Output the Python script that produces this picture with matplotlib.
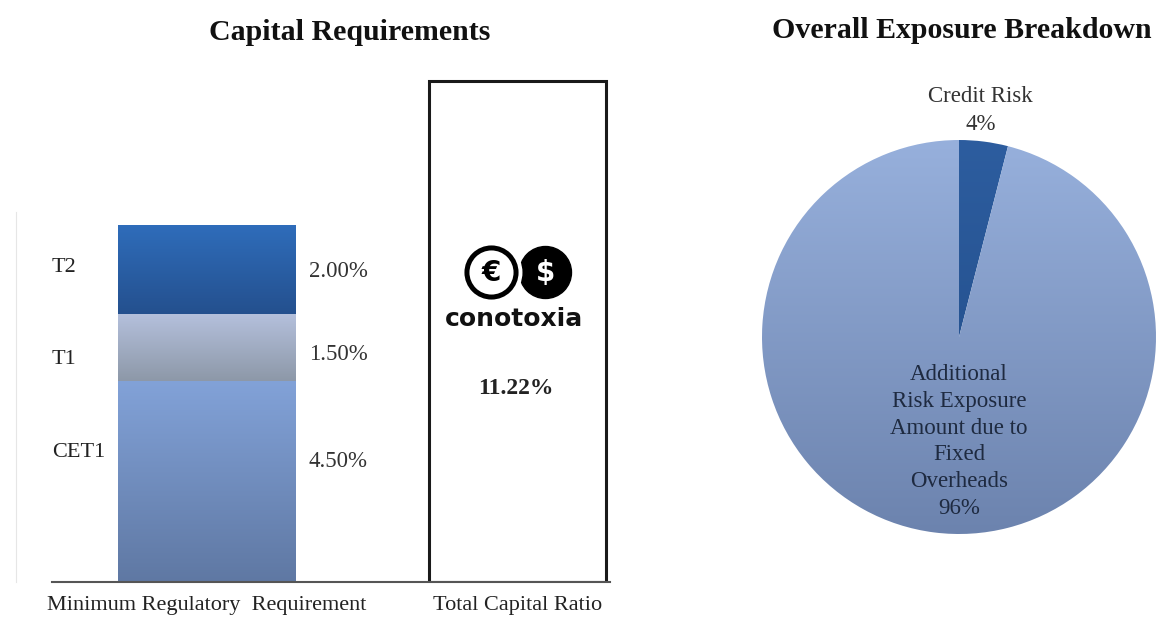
import numpy as np
import matplotlib
matplotlib.use("Agg")
import matplotlib.pyplot as plt
from matplotlib.colors import LinearSegmentedColormap

plt.rcParams['font.family'] = ['Liberation Serif', 'DejaVu Serif']

# data
layers = ['CET1', 'T1', 'T2']
layer_values = [4.50, 1.50, 2.00]
layer_labels = ['4.50%', '1.50%', '2.00%']
bar_categories = ['Minimum Regulatory  Requirement', 'Total Capital Ratio']
total_ratio = 11.22
total_label = '11.22%'

pie_labels = ['Credit Risk', 'Additional\nRisk Exposure\nAmount due to\nFixed\nOverheads']
pie_values = [4, 96]

# styling: gradients (top, bottom) and label heights for each stacked layer
layer_grads = [('#82a2d8', '#5f78a3'), ('#b4c0dc', '#8d98a8'), ('#2f6dbb', '#24508e')]
name_y = [2.91, 4.98, 7.04]
value_y = [2.69, 5.09, 6.95]


def gradient_fill(ax, patch, top, bottom, extent=None):
    if extent is None:
        x0, y0 = patch.get_x(), patch.get_y()
        extent = [x0, x0 + patch.get_width(), y0, y0 + patch.get_height()]
    cmap = LinearSegmentedColormap.from_list('g', [bottom, top])
    grad = np.linspace(0, 1, 256).reshape(-1, 1)
    im = ax.imshow(grad, cmap=cmap, aspect='auto', origin='lower',
                   extent=extent, zorder=patch.get_zorder())
    im.set_clip_path(patch)


fig = plt.figure(figsize=(11.58, 6.18), dpi=100)

# ---- left: capital requirements ----
ax = fig.add_axes([52 / 1158, 36 / 618, 558 / 1158, 522 / 618])
x = [0, 1]
bottom = 0
for i, (name, val, lab) in enumerate(zip(layers, layer_values, layer_labels)):
    bars = ax.bar(x[0], val, width=0.573, bottom=bottom, color='none', linewidth=0, zorder=2)
    gradient_fill(ax, bars[0], *layer_grads[i])
    ax.text(-0.5, name_y[i], name, fontsize=16, ha='left', va='center', color='#222222')
    ax.text(0.328, value_y[i], lab, fontsize=16.5, ha='left', va='center', color='#333333')
    bottom += val

ax.bar(x[1], total_ratio, width=0.573, color='white', edgecolor='#1a1a1a', linewidth=2.2, zorder=2)
ax.text(0.995, 4.33, total_label, fontsize=17, fontweight='bold', ha='center', va='center',
        color='#222222')

# logo approximation
ax.scatter([1.089], [6.95], s=1400, color='black', zorder=3)
ax.scatter([0.915], [6.95], s=1900, color='white', zorder=3)
ax.scatter([0.915], [6.95], s=1250, facecolor='white', edgecolor='black', linewidth=3.6, zorder=4)
ax.text(0.915, 6.93, '€', fontsize=20, fontweight='bold', family='DejaVu Sans', ha='center',
        va='center', color='black', zorder=5)
ax.text(1.089, 6.93, '$', fontsize=20, fontweight='bold', family='DejaVu Sans', ha='center',
        va='center', color='white', zorder=5)
ax.text(0.989, 5.90, 'conotoxia', fontsize=18, fontweight='bold', family='DejaVu Sans',
        ha='center', va='center', color='#111111', zorder=5)

ax.set_xlim(-0.499, 1.298)
ax.set_ylim(0, 11.70)
ax.set_xticks(x)
ax.set_xticklabels(bar_categories, fontsize=16, color='#222222')
ax.tick_params(axis='x', length=0, pad=10)
ax.set_yticks([])
for s in ['top', 'right']:
    ax.spines[s].set_visible(False)
ax.spines['left'].set_position(('outward', 26))
ax.spines['left'].set_bounds(0, 8.3)
ax.spines['left'].set_color('#e6e6e6')
ax.spines['bottom'].set_color('#555555')
ax.spines['bottom'].set_linewidth(1.5)

fig.text(350 / 1158, 1 - 32 / 618, 'Capital Requirements', fontsize=21.5, fontweight='bold',
         ha='center', va='center', color='#111111')

# ---- right: exposure breakdown ----
pax = fig.add_axes([(959 - 197) / 1158, (618 - 337 - 197) / 618, 394 / 1158, 394 / 618])
wedges, _ = pax.pie(pie_values, startangle=90, counterclock=False,
                    colors=['none', 'none'], wedgeprops=dict(linewidth=0))
wedge_grads = [('#2d5d9f', '#1f4a85'), ('#97b0dc', '#6c83ae')]
for w, (tc, bc) in zip(wedges, wedge_grads):
    gradient_fill(pax, w, tc, bc, extent=[-1, 1, -1, 1])
pax.set_xlim(-1, 1)
pax.set_ylim(-1, 1)
pax.axis('off')

pax.text(0.11, 1.15, pie_labels[0] + '\n%d%%' % pie_values[0], fontsize=16.5, ha='center',
         va='center', color='#333333', linespacing=1.4, clip_on=False)
pax.text(0, -0.53, pie_labels[1] + '\n%d%%' % pie_values[1], fontsize=16.5, ha='center',
         va='center', color='#1e2a40', linespacing=1.36)

fig.text(962 / 1158, 1 - 30 / 618, 'Overall Exposure Breakdown', fontsize=21.5, fontweight='bold',
         ha='center', va='center', color='#111111')

fig.savefig('out.png', dpi=100)
